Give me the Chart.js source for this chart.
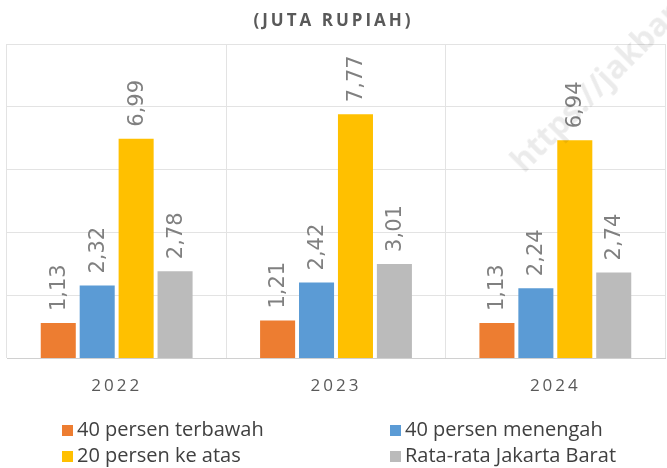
<!DOCTYPE html>
<html>
<head>
<meta charset="utf-8">
<script src="https://cdn.jsdelivr.net/npm/chart.js@4/dist/chart.umd.min.js"></script>
<style>
  html, body { margin: 0; padding: 0; background: #fff; }
  #wrap { position: relative; width: 667px; height: 468px; overflow: hidden; }
  #title {
    position: absolute; left: 0; top: 8px; width: 667px; text-align: center;
    font: bold 17px "Open Sans", sans-serif; letter-spacing: 3px; color: #595959;
  }
  .leg { position: absolute; font: 20px "Open Sans", sans-serif; color: #404040; white-space: nowrap; line-height: 26px; }
  .leg span.box { display: inline-block; width: 11px; height: 11px; margin-right: 4px; vertical-align: 0px; }
  #mark {
    position: absolute; left: 500px; top: 150px; transform-origin: 0 0; transform: rotate(-45deg);
    font: bold 32px "Open Sans", sans-serif; color: rgba(0,0,0,0.08); white-space: nowrap; pointer-events: none;
  }
</style>
</head>
<body>
<div id="wrap">
  <canvas id="chart" width="667" height="468"></canvas>
  <div id="title">(JUTA RUPIAH)</div>
  <div id="legend"></div>
  <div id="mark">https://jakbarkota.bps.go.id</div>
</div>
<script>
const years = ['2022', '2023', '2024'];
const seriesNames = ['40 persen terbawah', '40 persen menengah', '20 persen ke atas', 'Rata-rata Jakarta Barat'];
const bawah = [1.13, 1.21, 1.13];
const menengah = [2.32, 2.42, 2.24];
const atas = [6.99, 7.77, 6.94];
const rataRata = [2.78, 3.01, 2.74];
const colors = ['#ED7D31', '#5B9BD5', '#FFC000', '#BBBBBB'];
const yTicks = [0, 2, 4, 6, 8, 10];

const allData = [bawah, menengah, atas, rataRata];

// legend in two columns like the original
const legendPos = [[62, 416], [390, 416], [62, 442], [390, 442]];
const legendEl = document.getElementById('legend');
seriesNames.forEach((name, i) => {
    const d = document.createElement('div');
    d.className = 'leg';
    d.style.left = legendPos[i][0] + 'px';
    d.style.top = legendPos[i][1] + 'px';
    d.innerHTML = '<span class="box" style="background:' + colors[i] + '"></span>' + name;
    legendEl.appendChild(d);
});

const valueLabels = {
    id: 'valueLabels',
    afterDatasetsDraw(chart) {
        const ctx = chart.ctx;
        ctx.save();
        ctx.letterSpacing = '0px';
        ctx.font = '21px "DejaVu Sans"';
        ctx.fillStyle = '#808080';
        ctx.textAlign = 'left';
        ctx.textBaseline = 'middle';
        chart.data.datasets.forEach((ds, i) => {
            chart.getDatasetMeta(i).data.forEach((bar, j) => {
                const txt = ds.data[j].toFixed(2).replace('.', ',');
                ctx.save();
                ctx.translate(bar.x + 1, bar.y - 12);
                ctx.rotate(-Math.PI / 2);
                ctx.fillText(txt, 0, 0);
                ctx.restore();
            });
        });
        ctx.restore();
    }
};

// wider spacing for the year labels
const spacing = {
    id: 'spacing',
    beforeDraw(chart) { chart.ctx.letterSpacing = '3px'; },
    afterDraw(chart) { chart.ctx.letterSpacing = '0px'; }
};

const ctx = document.getElementById('chart').getContext('2d');
const myChart = new Chart(ctx, {
    type: 'bar',
    data: {
        labels: years,
        datasets: allData.map((d, i) => ({
            label: seriesNames[i],
            data: d,
            backgroundColor: colors[i],
            categoryPercentage: 0.71,
            barPercentage: 0.9
        }))
    },
    options: {
        responsive: false,
        animation: false,
        layout: { padding: { top: 44, left: 7, right: 2, bottom: 55 } },
        plugins: {
            legend: { display: false },
            tooltip: { enabled: false },
            title: { display: false }
        },
        scales: {
            x: {
                grid: { color: '#e3e3e3', drawTicks: false, offset: true },
                border: { color: '#d0d0d0' },
                ticks: { color: '#595959', font: { family: 'Open Sans', size: 17 }, padding: 17 }
            },
            y: {
                min: 0,
                max: 10,
                afterBuildTicks(scale) { scale.ticks = yTicks.map(v => ({ value: v })); },
                grid: { color: '#e3e3e3', drawTicks: false },
                border: { display: false },
                ticks: { display: false }
            }
        }
    },
    plugins: [spacing, valueLabels]
});
</script>
</body>
</html>
